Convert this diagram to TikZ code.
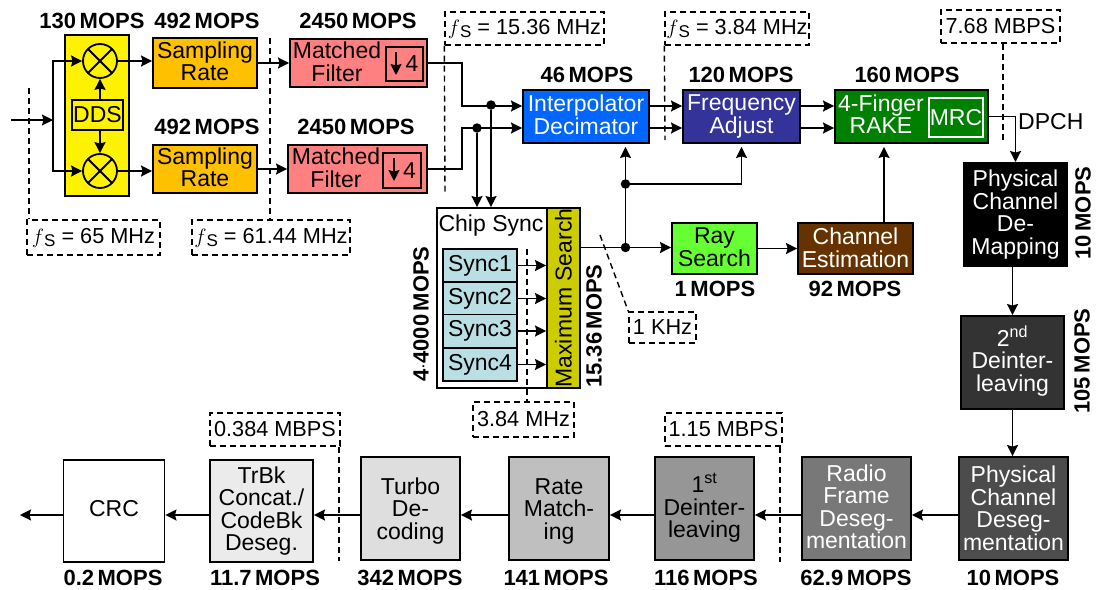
\documentclass[tikz,border=0pt]{standalone}
\usepackage{fontspec}
\setmainfont{Liberation Sans}
\usetikzlibrary{arrows.meta}
\newcommand{\fsymb}{$f$\raisebox{-3pt}{\fontsize{17}{17}\selectfont S}}
\newcommand{\upby}[1]{\rule[-#1pt]{0pt}{0pt}}
\newcommand{\downby}[1]{\rule{0pt}{#1pt}}
\newcommand{\mopfont}{\fontsize{22}{22}\selectfont\bfseries\spaceskip=.16em\relax}
\tikzset{
  blockbox/.style n args={2}{draw=black, line width=1.9pt, inner sep=0pt, align=center,
    minimum width=#1 pt, minimum height=#2 pt,
    font=\fontsize{23}{22.5}\selectfont},
  ratebox/.style={draw=black, dashed, dash pattern=on 6pt off 4pt, line width=1.4pt, inner sep=0pt, align=center,
    font=\fontsize{21.7}{22}\selectfont},
  moplabel/.style={inner sep=0pt, font=\mopfont},
  plaintxt/.style={inner sep=0pt, align=center, font=\fontsize{23}{22.5}\selectfont},
  mixernode/.style={draw=black, line width=1.8pt, circle, inner sep=0pt, minimum size=34pt,
    path picture={
      \draw[line width=1.8pt] (path picture bounding box.south west)--(path picture bounding box.north east);
      \draw[line width=1.8pt] (path picture bounding box.north west)--(path picture bounding box.south east);}},
  dotnode/.style={fill=black, circle, inner sep=0pt, minimum size=9.5pt},
  cutline/.style={dashed, dash pattern=on 6pt off 4pt, line width=1.4pt},
  conn/.style={line width=1.8pt, -{Stealth[length=11pt,width=11pt,inset=1.5pt]}}
}
\begin{document}
\begin{tikzpicture}[x=1pt, y=-1pt]
\useasboundingbox (0,0) rectangle (1097,589);

% front end
\node[blockbox={64}{161}, fill=yellow] (lo) at (97,115.5) {};
\node[mixernode] (mixA) at (100,61) {};
\node[mixernode] (mixB) at (100,171) {};
\node[blockbox={51}{30}] (dds) at (97.5,115) {DDS};
\node[blockbox={104}{50}, fill={rgb,255:red,255;green,192;blue,0}] (sampA) at (205,63) {Sampling\\Rate\upby{4}};
\node[blockbox={104}{48}, fill={rgb,255:red,255;green,192;blue,0}] (sampB) at (205,169) {Sampling\\Rate\upby{4}};
\node[blockbox={137}{48}, fill=red!50!white] (filtA) at (358.5,63) {};
\node[blockbox={139}{48}, fill=red!50!white] (filtB) at (357.5,169) {};
\node[plaintxt] (filtAtxt) at (337,62) {Matched\\Filter};
\node[plaintxt] (filtBtxt) at (336,168) {Matched\\Filter};
\node[blockbox={37}{34}] (downA) at (404.5,64) {\hspace{15pt}4};
\node[blockbox={38}{35}] (downB) at (402,170.5) {\hspace{15pt}4};

% despreading chain
\node[blockbox={126}{53}, fill=blue!60!cyan, text=white] (interp) at (586,116.5) {Interpolator\\Decimator\upby{4}};
\node[blockbox={117}{53}, fill={rgb,255:red,51;green,51;blue,153}, text=white] (freq) at (741.5,116.5) {Frequency\\Adjust};
\node[blockbox={153}{53}, fill=green!50!black, text=white] (rake) at (911.5,116.5) {};
\node[plaintxt, text=white] (raketxt) at (881,114) {4-Finger\\RAKE};
\node[blockbox={54}{39}, draw=white, fill=green!50!black, text=white] (mrc) at (956,117.5) {MRC};
\node[blockbox={85}{51}, fill={rgb,255:red,102;green,255;blue,51}] (ray) at (714.5,248.5) {Ray\\Search\upby{3}};
\node[blockbox={115}{51}, fill={rgb,255:red,102;green,51;blue,0}, text=white] (chan) at (855.5,248.5) {Channel\\Estimation\upby{2}};

% chip sync
\node[blockbox={143}{180}, fill=white] (chip) at (508.5,298) {};
\node[plaintxt] (chiptxt) at (491,226) {Chip Sync};
\node[blockbox={180}{33}, rotate=90, fill={rgb,255:red,204;green,204;blue,0}] (maxs) at (563.5,298) {Maximum Search};
\node[blockbox={74}{33}, fill={rgb,255:red,185;green,223;blue,229}] (syncA) at (480,265.5) {Sync1};
\node[blockbox={74}{33}, fill={rgb,255:red,185;green,223;blue,229}] (syncB) at (480,298.5) {Sync2};
\node[blockbox={74}{33}, fill={rgb,255:red,185;green,223;blue,229}] (syncC) at (480,331) {Sync3};
\node[blockbox={74}{33}, fill={rgb,255:red,185;green,223;blue,229}] (syncD) at (480,364.5) {Sync4};

% bit rate part
\node[blockbox={103}{103}, fill=black, text=white] (phys) at (1015.5,214.5) {Physical\\Channel\\De-\\Mapping};
\node[blockbox={103}{93}, fill=black!80, text=white] (deintB) at (1012.5,362.5) {2\textsuperscript{nd}\\Deinter-\\leaving\upby{8}};
\node[blockbox={109}{103}, fill=black!70, text=white] (physd) at (1013.5,508.5) {Physical\\Channel\\Deseg-\\mentation};
\node[blockbox={109}{103}, fill=black!53, text=white] (radio) at (856.5,508.5) {Radio\\Frame\\Deseg-\\mentation\upby{4}};
\node[blockbox={99}{103}, fill=black!41] (deintA) at (704.5,508.5) {1\textsuperscript{st}\\Deinter-\\leaving\upby{6}};
\node[blockbox={100}{103}, fill=black!25] (match) at (559,508.5) {\downby{21}Rate\\Match-\\ing};
\node[blockbox={99}{103}, fill=black!13] (turbo) at (410.5,508.5) {\downby{21}Turbo\\De-\\coding};
\node[blockbox={103}{102}, fill=black!8] (trbk) at (261.5,511) {TrBk\\Concat./\\CodeBk\\Deseg.};
\node[blockbox={101}{102}, fill=white] (crc) at (114,511) {CRC\upby{6}};

% rates
\node[ratebox, minimum width=133pt, minimum height=35pt] (fsA) at (93.5,237.5) {\fsymb{} = 65 MHz};
\node[ratebox, minimum width=158pt, minimum height=35pt] (fsB) at (271,237.5) {\fsymb{} = 61.44 MHz};
\node[ratebox, minimum width=159pt, minimum height=33pt] (fsC) at (524.5,28.5) {\fsymb{} = 15.36 MHz};
\node[ratebox, minimum width=144pt, minimum height=33pt] (fsD) at (737,28.5) {\fsymb{} = 3.84 MHz};
\node[ratebox, minimum width=119pt, minimum height=33pt] (rateE) at (1000.5,26.5) {7.68 MBPS};
\node[ratebox, minimum width=67pt, minimum height=31pt] (rateF) at (662.5,327.5) {1 KHz};
\node[ratebox, minimum width=101pt, minimum height=35pt] (rateG) at (523.5,419.5) {3.84 MHz};
\node[ratebox, minimum width=117pt, minimum height=33pt] (rateH) at (723.5,429.5) {1.15 MBPS};
\node[ratebox, minimum width=130pt, minimum height=33pt] (rateI) at (275,429.5) {0.384 MBPS};

% MOPS
\node[moplabel] (mopA) at (92,21) {130 MOPS};
\node[moplabel] (mopB) at (207,21) {492 MOPS};
\node[moplabel] (mopC) at (358,21) {2450 MOPS};
\node[moplabel] (mopD) at (207,127) {492 MOPS};
\node[moplabel] (mopE) at (356,127) {2450 MOPS};
\node[moplabel] (mopF) at (587,75) {46 MOPS};
\node[moplabel] (mopG) at (741,75) {120 MOPS};
\node[moplabel] (mopH) at (907,75) {160 MOPS};
\node[moplabel] (mopI) at (715,289) {1 MOPS};
\node[moplabel] (mopJ) at (855,289) {92 MOPS};
\node[moplabel, rotate=90] (mopK) at (1083,213) {10 MOPS};
\node[moplabel, rotate=90] (mopL) at (1082,361) {105 MOPS};
\node[moplabel, rotate=90] (mopM) at (421,314) {4$\cdot$4000 MOPS};
\node[moplabel, rotate=90] (mopN) at (594,326) {15.36 MOPS};
\node[moplabel] (mopO) at (113,578) {0.2 MOPS};
\node[moplabel] (mopP) at (265,578) {11.7 MOPS};
\node[moplabel] (mopQ) at (410,578) {342 MOPS};
\node[moplabel] (mopR) at (556,578) {141 MOPS};
\node[moplabel] (mopS) at (706,578) {116 MOPS};
\node[moplabel] (mopT) at (856,578) {62.9 MOPS};
\node[moplabel] (mopU) at (1013,578) {10 MOPS};
\node[plaintxt, anchor=west] (dpch) at (1018,122) {DPCH};

% junctions
\coordinate (inA) at (11,120);
\coordinate (splitA) at (53,120);
\coordinate (bendA) at (462,106);
\coordinate (bendB) at (462,128);
\node[dotnode] (dotA) at (491,105) {};
\node[dotnode] (dotB) at (477,128) {};
\node[dotnode] (dotC) at (625.5,247.5) {};
\node[dotnode] (dotD) at (625.5,184) {};
\coordinate (upR) at (884,223);
\coordinate (rowB) at (0,515);
\coordinate (outC) at (20,515);
\coordinate (tipA) at (396,52);
\coordinate (tipB) at (394,158);

% connectors
\draw[conn] (inA) -- (splitA);
\draw[conn] (splitA) |- (mixA.west);
\draw[conn] (splitA) |- (mixB.west);
\draw[conn] (mixA.south |- dds.north) -- (mixA.south);
\draw[conn] (mixB.north |- dds.south) -- (mixB.north);
\draw[conn] (mixA.east) -- (mixA.east -| sampA.west);
\draw[conn] (mixB.east) -- (mixB.east -| sampB.west);
\draw[conn] (sampA.east) -- (filtA.west);
\draw[conn] (sampB.east) -- (filtB.west);
\draw[conn] (tipA) -- ++(0,23);
\draw[conn] (tipB) -- ++(0,23);
\draw[conn] (filtA.east) -| (bendA) -- (bendA -| interp.west);
\draw[conn] (filtB.east) -| (bendB) -- (bendB -| interp.west);
\draw[conn] (dotA) -- (dotA |- chip.north);
\draw[conn] (dotB) -- (dotB |- chip.north);
\draw[conn] (bendA -| interp.east) -- (bendA -| freq.west);
\draw[conn] (dotB -| interp.east) -- (dotB -| freq.west);
\draw[conn] (bendA -| freq.east) -- (bendA -| rake.west);
\draw[conn] (dotB -| freq.east) -- (dotB -| rake.west);
\draw[conn] (rake.east) -| (phys.north);
\draw[conn, shorten >=3pt] (dotC) -- (dotC |- interp.south);
\draw[conn, shorten >=3pt] (dotD) -| (freq.south);
\draw[conn] (dotC -| maxs.south) -- (dotC -| ray.west);
\draw[conn] (ray.east) -- (chan.west);
\draw[conn, shorten >=3pt] (upR) -- (upR |- rake.south);
\draw[conn] (syncA.east) -- (syncA.east -| maxs.north);
\draw[conn] (syncB.east) -- (syncB.east -| maxs.north);
\draw[conn] (syncC.east) -- (syncC.east -| maxs.north);
\draw[conn] (syncD.east) -- (syncD.east -| maxs.north);
\draw[conn] (deintB.north |- phys.south) -- (deintB.north);
\draw[conn] (deintB.south) -- (deintB.south |- physd.north);
\draw[conn] (physd.west |- rowB) -- (radio.east |- rowB);
\draw[conn] (radio.west |- rowB) -- (deintA.east |- rowB);
\draw[conn] (deintA.west |- rowB) -- (match.east |- rowB);
\draw[conn] (match.west |- rowB) -- (turbo.east |- rowB);
\draw[conn] (turbo.west |- rowB) -- (trbk.east |- rowB);
\draw[conn] (trbk.west |- rowB) -- (crc.east |- rowB);
\draw[conn] (crc.west |- rowB) -- (outC);

% sample rate borders
\coordinate (cutA) at (29,88);
\coordinate (cutB) at (270,38);
\coordinate (cutC) at (445,193);
\coordinate (cutD) at (665,140);
\coordinate (cutE) at (1003,140);
\coordinate (cutF) at (600,235);
\coordinate (cutG) at (527,249);
\coordinate (cutH) at (780,562);
\coordinate (cutI) at (339,561);
\draw[cutline] (cutA) -- (cutA |- fsA.north);
\draw[cutline] (cutB) -- (cutB |- fsB.north);
\draw[cutline] (fsC.south west) -- (cutC);
\draw[cutline] (fsD.south west) -- (cutD);
\draw[cutline] (cutE |- rateE.south) -- (cutE);
\draw[cutline] (cutF) -- (rateF.north west);
\draw[cutline] (cutG) -- (cutG |- rateG.north);
\draw[cutline] (cutH |- rateH.south) -- (cutH);
\draw[cutline] (cutI |- rateI.south) -- (cutI);
\end{tikzpicture}
\end{document}
